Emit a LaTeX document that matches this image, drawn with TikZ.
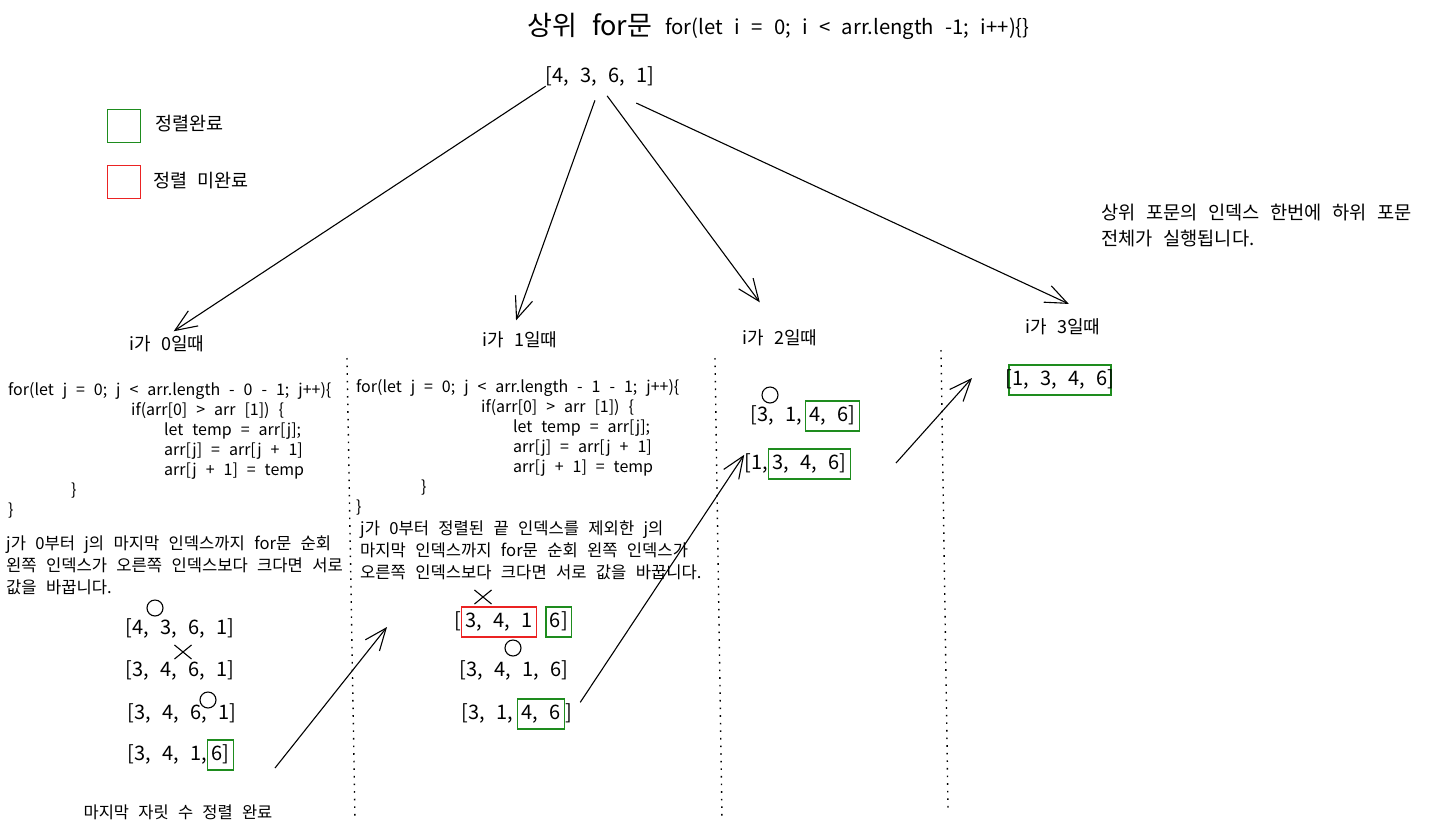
\documentclass[tikz,border=0pt]{standalone}
\usepackage{fontspec}
\setmainfont{Noto Sans CJK KR}[WordSpace=2.5]
\usetikzlibrary{positioning,arrows.meta,shapes.misc}
\definecolor{sketchgreen}{RGB}{30,140,30}
\definecolor{sketchred}{RGB}{235,35,35}

\begin{document}
\begin{tikzpicture}[x=1pt,y=-1pt]
	\tikzstyle{every node}+=[inner sep=0pt]
	\tikzstyle{arr}=[font=\fontsize{20}{24}\selectfont, text height=14pt, text depth=4pt]
	\tikzstyle{donebox}=[draw=sketchgreen, line width=1.4pt, inner xsep=4pt, inner ysep=6pt]
	\tikzstyle{todobox}=[draw=sketchred, line width=1.4pt, inner xsep=4pt, inner ysep=6pt]
	\tikzstyle{code}=[font=\fontsize{16}{20}\selectfont, align=left, anchor=north west]
	\tikzstyle{desc}=[font=\fontsize{16.6}{22}\selectfont, align=left]
	\tikzstyle{lbl}=[font=\fontsize{18}{22}\selectfont]
	\tikzstyle{okmark}=[circle, draw, line width=1.1pt, minimum size=16pt]
	\tikzstyle{nomark}=[cross out, draw, line width=1.1pt, minimum width=16pt, minimum height=13pt]
	\tikzstyle{divider}=[line width=1.4pt, dash pattern=on 1.6pt off 6pt]
	\tikzstyle{sketcharrow}=[line width=1.1pt, -{Straight Barb[length=22pt, width=18pt]}]
	\useasboundingbox [fill=white] (0,0) rectangle (1434,836);
	\node[anchor=west, font=\fontsize{27}{30}\selectfont] (ttl) at (527,25) {상위 for문};
	\node[anchor=west, font=\fontsize{20.3}{24}\selectfont] (ttlcode) at (665,29) {for(let i = 0; i < arr.length -1; i++)\{\}};
	\node[arr] (root) at (600,77) {[4, 3, 6, 1]};
	\node[donebox, minimum size=33pt] (lgdone) at (124,126) {};
	\node[anchor=west, font=\fontsize{18.5}{20}\selectfont] (lgdonetxt) at (155,124) {정렬완료};
	\node[todobox, minimum size=33pt] (lgtodo) at (124,182) {};
	\node[anchor=west, font=\fontsize{18.5}{20}\selectfont] (lgtodotxt) at (153,181) {정렬 미완료};
	\node[align=left, anchor=north west, font=\fontsize{18.7}{26}\selectfont] (note) at (1101,204) {상위 포문의 인덱스 한번에 하위 포문\\전체가 실행됩니다.};
	\node[lbl] (lab0) at (167,344) {i가 0일때};
	\node[lbl] (lab1) at (520,340) {i가 1일때};
	\node[lbl] (lab2) at (780,338) {i가 2일때};
	\node[lbl] (lab3) at (1063,327) {i가 3일때};
	\draw[sketcharrow, shorten >=8pt] (root.south west) -- (lab0.north);
	\draw[sketcharrow, shorten <=15pt, shorten >=12pt] (root.south) -- ([xshift=-8pt]lab1.north);
	\draw[sketcharrow, shorten <=12pt, shorten >=34pt] (root.south) -- (lab2.north);
	\draw[sketcharrow, shorten <=40pt, shorten >=35pt] (root.south) -- (lab3.north east);
	\draw[divider] (347,358) -- (355,820);
	\draw[divider] (715,358) -- (722,820);
	\draw[divider] (941,350) -- (948,808);
	\node[code] (code0) at (8,382) {for(let j = 0; j < arr.length - 0 - 1; j++)\{\\
		\hspace*{123pt}if(arr[0] > arr [1]) \{\\
		\hspace*{156pt}let temp = arr[j];\\
		\hspace*{156pt}arr[j] = arr[j + 1]\\
		\hspace*{156pt}arr[j + 1] = temp\\
		\hspace*{63pt}\}\\
		\}};
	\node[code] (code1) at (356,379) {for(let j = 0; j < arr.length - 1 - 1; j++)\{\\
		\hspace*{125pt}if(arr[0] > arr [1]) \{\\
		\hspace*{157pt}let temp = arr[j];\\
		\hspace*{157pt}arr[j] = arr[j + 1]\\
		\hspace*{157pt}arr[j + 1] = temp\\
		\hspace*{65pt}\}\\
		\}};
	\node[desc, anchor=north west] (desc0) at (6,536) {j가 0부터 j의 마지막 인덱스까지 for문 순회\\왼쪽 인덱스가 오른쪽 인덱스보다 크다면 서로\\값을 바꿉니다.};
	\node[desc, anchor=north west] (desc1) at (360,521) {j가 0부터 정렬된 끝 인덱스를 제외한 j의\\마지막 인덱스까지 for문 순회 왼쪽 인덱스가\\오른쪽 인덱스보다 크다면 서로 값을 바꿉니다.};
	\node[okmark] (m00) at (155,608) {};
	\node[arr] (a00) at (180,629) {[4, 3, 6, 1]};
	\node[nomark] (m01) at (183,652) {};
	\node[arr] (a01) at (180,671) {[3, 4, 6, 1]};
	\node[okmark] (m02) at (208,700) {};
	\node[arr] (a02) at (182,714) {[3, 4, 6, 1]};
	\node[arr, anchor=east] (a03) at (207,755) {[3, 4, 1,};
	\node[arr, donebox, anchor=west] (a03s) at (a03.east) {6]};
	\node[desc, font=\fontsize{16.5}{20}\selectfont] (lastnote) at (178,812) {마지막 자릿 수 정렬 완료};
	\coordinate (s0) at (275,768);
	\coordinate (t0) at (387,627);
	\draw[sketcharrow] (s0) -- (t0);
	\node[nomark] (m10) at (483,597) {};
	\node[arr, anchor=east] (a10l) at (461,622) {[};
	\node[arr, todobox, anchor=west] (a10m) at (a10l.east) {3, 4, 1};
	\node[arr, donebox, right=8pt of a10m] (a10r) {6]};
	\node[okmark] (m11) at (513,648) {};
	\node[arr] (a11) at (514,671) {[3, 4, 1, 6]};
	\node[arr, anchor=east] (a12l) at (513,714) {[3, 1,};
	\node[arr, donebox, anchor=west] (a12m) at ([xshift=4pt]a12l.east) {4, 6};
	\node[arr, anchor=west] (a12r) at (a12m.east) {]};
	\node[okmark] (m20) at (770,395) {};
	\node[arr, anchor=east] (a20l) at (802,416) {[3, 1,};
	\node[arr, donebox, anchor=west] (a20r) at ([xshift=3pt]a20l.east) {4, 6]};
	\node[arr, anchor=east] (a21l) at (768,464) {[1,};
	\node[arr, donebox, anchor=west] (a21r) at (a21l.east) {3, 4, 6]};
	\draw[sketcharrow, shorten <=14pt] (a12r.east) -- (a21l.north west);
	\coordinate (s2) at (896,463);
	\coordinate (t2) at (972,378);
	\draw[sketcharrow] (s2) -- (t2);
	\node[arr, donebox, inner xsep=-3pt] (a30) at (1060,380) {[1, 3, 4, 6]};
\end{tikzpicture}
\end{document}
